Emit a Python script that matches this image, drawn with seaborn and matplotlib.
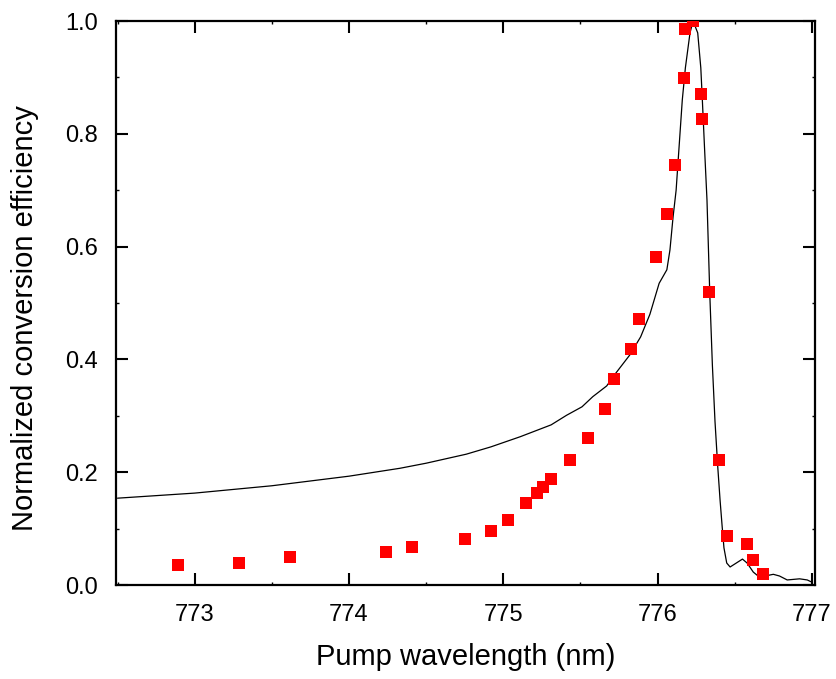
import matplotlib
matplotlib.use("Agg")
import matplotlib.pyplot as plt
import seaborn as sns
import pandas as pd
from matplotlib.ticker import MultipleLocator

# Measured conversion efficiency (red squares)
meas_wl = [772.89, 773.29, 773.62, 774.24, 774.41, 774.75, 774.92, 775.03,
           775.15, 775.22, 775.26, 775.31, 775.43, 775.55, 775.66, 775.72,
           775.83, 775.88, 775.99, 776.06, 776.11, 776.17, 776.18, 776.23,
           776.28, 776.29, 776.33, 776.40, 776.45, 776.58, 776.62, 776.68]
meas_eff = [0.035, 0.039, 0.050, 0.059, 0.067, 0.082, 0.096, 0.115,
            0.145, 0.163, 0.174, 0.188, 0.222, 0.261, 0.312, 0.365,
            0.418, 0.472, 0.582, 0.658, 0.745, 0.899, 0.986, 1.000,
            0.871, 0.826, 0.520, 0.222, 0.087, 0.073, 0.044, 0.020]

# Simulated curve (black line)
sim_wl = [772.50, 773.00, 773.50, 774.00, 774.33, 774.50, 774.76, 774.92,
          775.11, 775.31, 775.41, 775.51, 775.58, 775.67, 775.73, 775.82,
          775.89, 775.95, 776.01, 776.06, 776.08, 776.10, 776.12, 776.14,
          776.16, 776.18, 776.21, 776.23, 776.26, 776.28, 776.29, 776.305,
          776.32, 776.338, 776.355, 776.372, 776.39, 776.405, 776.418, 776.43,
          776.448, 776.47, 776.51, 776.55, 776.58, 776.62, 776.66, 776.75,
          776.79, 776.84, 776.92, 776.97, 777.00]
sim_eff = [0.154, 0.163, 0.176, 0.193, 0.207, 0.216, 0.232, 0.245,
           0.263, 0.284, 0.301, 0.316, 0.334, 0.353, 0.376, 0.408,
           0.440, 0.480, 0.535, 0.559, 0.594, 0.652, 0.700, 0.780,
           0.860, 0.917, 0.979, 1.000, 0.979, 0.917, 0.860, 0.770,
           0.683, 0.518, 0.390, 0.290, 0.209, 0.150, 0.105, 0.066,
           0.039, 0.032, 0.039, 0.046, 0.039, 0.023, 0.014, 0.019,
           0.016, 0.009, 0.011, 0.009, 0.005]

x_ticks = [773, 774, 775, 776, 777]
y_ticks = [0.0, 0.2, 0.4, 0.6, 0.8, 1.0]
y_tick_labels = ["0.0", "0.2", "0.4", "0.6", "0.8", "1.0"]

sns.set_theme(style="ticks")
plt.rcParams["font.family"] = ["Liberation Sans", "DejaVu Sans"]
plt.rcParams["axes.labelcolor"] = "black"
plt.rcParams["text.color"] = "black"

df_meas = pd.DataFrame({"wl": meas_wl, "eff": meas_eff})
df_sim = pd.DataFrame({"wl": sim_wl, "eff": sim_eff})

fig = plt.figure(figsize=(8.37, 6.79), dpi=100)
ax = fig.add_axes([0.1386, 0.1384, 0.8351, 0.8306])

sns.lineplot(data=df_sim, x="wl", y="eff", ax=ax, color="black",
             linewidth=0.9, sort=False)
sns.scatterplot(data=df_meas, x="wl", y="eff", ax=ax, marker="s",
                color="#ff0000", s=80, linewidth=0, zorder=3, clip_on=True)

ax.set_xlim(772.49, 777.02)
ax.set_ylim(0, 1.0)
ax.set_xticks(x_ticks)
ax.set_xticklabels([str(v) for v in x_ticks])
ax.set_yticks(y_ticks)
ax.set_yticklabels(y_tick_labels)
ax.xaxis.set_minor_locator(MultipleLocator(0.5))
ax.yaxis.set_minor_locator(MultipleLocator(0.1))

for s in ax.spines.values():
    s.set_visible(True)
    s.set_linewidth(1.6)
    s.set_color("black")

ax.tick_params(which="major", direction="in", length=8.5, width=1.5,
               top=True, right=True, labelsize=17, colors="black")
ax.tick_params(axis="x", which="major", pad=14)
ax.tick_params(axis="y", which="major", pad=13)
ax.tick_params(which="minor", direction="in", length=2, width=1.0,
               top=True, right=True, colors="black")

ax.set_xlabel("Pump wavelength (nm)", fontsize=21, labelpad=12, color="black")
ax.set_ylabel("Normalized conversion efficiency", fontsize=21, color="black")
ax.yaxis.set_label_coords(-0.110, 0.474)

fig.savefig("out.png", dpi=100)
